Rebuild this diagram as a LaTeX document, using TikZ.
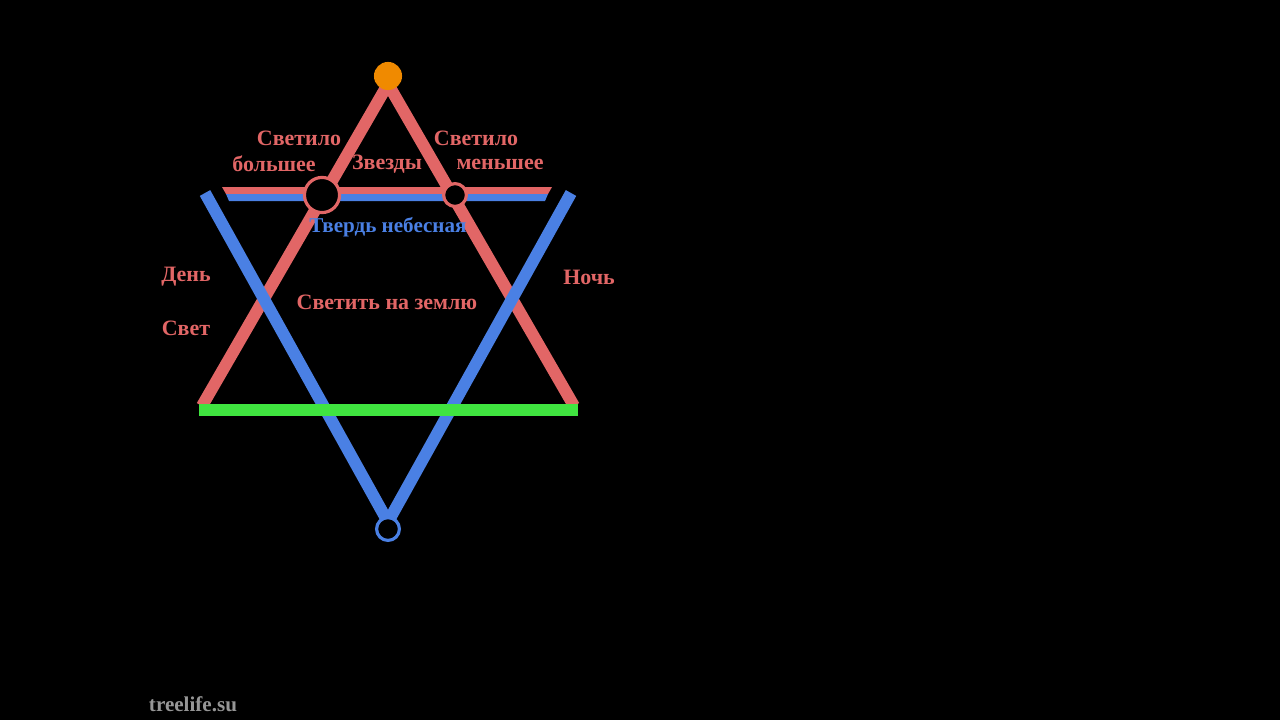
\documentclass[tikz,border=0pt]{standalone}
\usepackage{fontspec}
\setmainfont{Liberation Serif}
\usetikzlibrary{positioning}
\definecolor{starred}{RGB}{226,102,102}
\definecolor{starblue}{RGB}{74,128,228}
\definecolor{stargreen}{RGB}{64,228,64}
\definecolor{starorange}{RGB}{240,138,0}
\definecolor{markgray}{RGB}{150,150,150}

\begin{document}
\begin{tikzpicture}[
    x=0.02cm, y=-0.02cm,
    redline/.style={draw=starred, line width=6.8pt},
    blueline/.style={draw=starblue, line width=6.8pt},
    greenline/.style={draw=stargreen, line width=6.8pt},
    lbl/.style={font=\bfseries\fontsize{12.5}{14}\selectfont, text=starred, inner sep=0pt},
    bluelbl/.style={lbl, text=starblue},
    ring/.style={circle, draw=starred, fill=black, line width=1.8pt, inner sep=0pt}
]
\fill[black] (0,0) rectangle (1280,720);
% corners of the two triangles
\coordinate (apex) at (388,84);
\coordinate (redL) at (202,406);
\coordinate (redR) at (574,406);
\coordinate (blueL) at (205,193);
\coordinate (blueR) at (571,193);
\coordinate (low) at (388,522);
% red triangle
\draw[redline] (apex) -- (redL);
\draw[redline] (apex) -- (redR);
% blue triangle
\draw[blueline] (blueL) -- (low);
\draw[blueline] (blueR) -- (low);
% firmament bar
\fill[starred] (222,187) -- (552,187) -- (548,194) -- (226,194) -- cycle;
\fill[starblue] (226,194) -- (548,194) -- (545,201) -- (229,201) -- cycle;
% earth
\coordinate (earthL) at (199,410);
\coordinate (earthR) at (578,410);
\draw[greenline] (earthL) -- (earthR);
% points
\node[circle, fill=starorange, inner sep=0pt, minimum size=16pt] (sun) at (388,76) {};
\node[ring, minimum size=20pt] (big) at (322,195) {};
\node[ring, minimum size=13pt] (small) at (455,195) {};
\node[circle, draw=starblue, fill=black, line width=1.8pt, inner sep=0pt, minimum size=13pt] (bottom) at (388,529) {};
% labels
\node[lbl] (greatA) at (299,138) {Светило};
\node[lbl] (greatB) at (274,164) {большее};
\node[lbl] (stars) at (387,164) {Звезды};
\node[lbl] (lessA) at (476,138) {Светило};
\node[lbl] (lessB) at (500,164) {меньшее};
\node[bluelbl, font=\bfseries\fontsize{12}{14}\selectfont] (sky) at (388,227) {Твердь небесная};
\node[lbl] (day) at (186,277) {День};
\node[lbl] (light) at (186,328) {Свет};
\node[lbl] (shine) at (387,302) {Светить на землю};
\node[lbl] (night) at (589,277) {Ночь};
\node[lbl, text=markgray, font=\bfseries\fontsize{12}{14}\selectfont] (site) at (193,704) {treelife.su};
\end{tikzpicture}
\end{document}
